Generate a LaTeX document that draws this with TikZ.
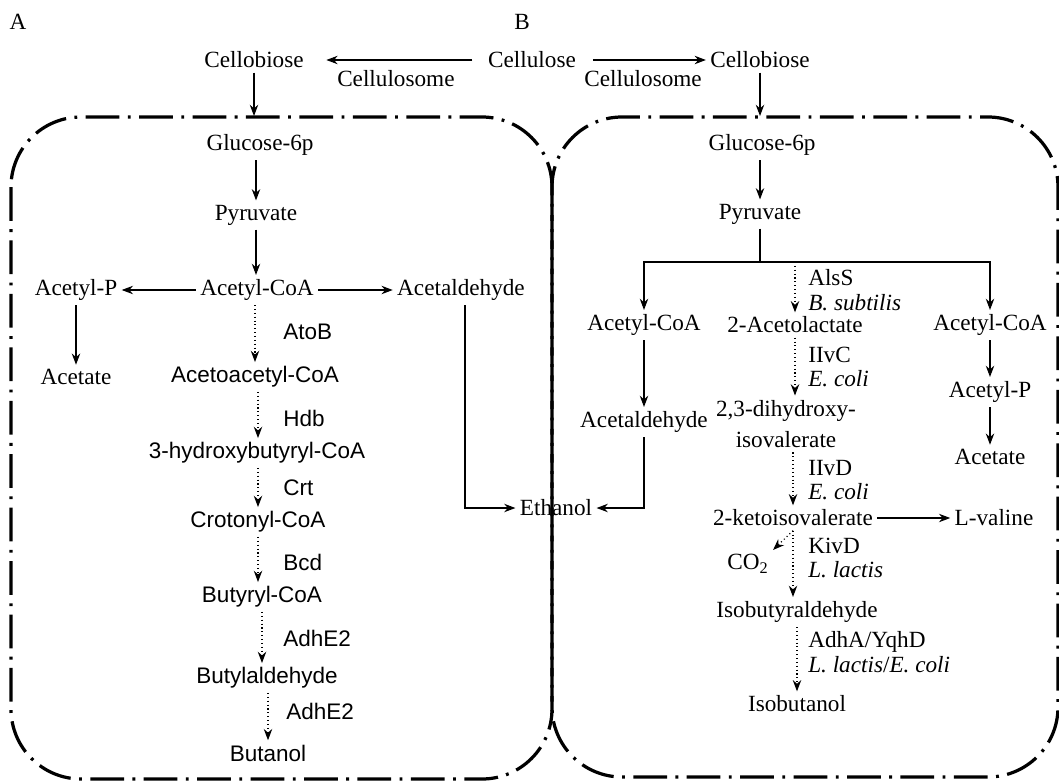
\documentclass[tikz,border=0pt]{standalone}
\usepackage{fontspec}
\setmainfont{Liberation Serif}
\setsansfont{Liberation Sans}
\usetikzlibrary{arrows.meta,calc}

\tikzstyle{every node}=[font=\fontsize{16.5}{17.5}\selectfont, inner sep=3pt]
\tikzstyle{arr}=[-{Stealth[length=8pt,width=6pt]}, line width=0.75pt]
\tikzstyle{darr}=[arr, dotted, line width=0.85pt]
\tikzstyle{sf}=[font=\fontsize{16}{17.5}\selectfont\sffamily]
\tikzstyle{enz}=[anchor=west, align=left, inner sep=0pt]
\tikzstyle{membrane}=[line width=2.3pt, rounded corners=1.75cm, dash pattern=on 24pt off 6pt on 2pt off 6pt]

\begin{document}
\begin{tikzpicture}[x=0.025cm,y=-0.025cm]
            \useasboundingbox (0,0) rectangle (1059,783);

            % 标记 A, B
            \node (lA) at (18,22) {A};
            \node (lB) at (522,22) {B};

            % 绘制细胞膜
            \draw[membrane] (11,117) rectangle (552,779);
            \draw[membrane] (552,117) rectangle (1058,777);

            % 细胞外: 纤维素
            \node (cb1) at (254,60) {Cellobiose};
            \node (cel) at (532,60) {Cellulose};
            \node (cb2) at (760,60) {Cellobiose};
            \draw[arr, shorten <=8pt, shorten >=13pt] (cel) -- (cb1) node[midway, below=4pt] {Cellulosome};
            \draw[arr, shorten <=9pt] (cel) -- (cb2) node[midway, below=4pt] {Cellulosome};
            \coordinate (inA) at (254,116);
            \coordinate (inB) at (760,116);
            \draw[arr] (cb1) -- (inA);
            \draw[arr] (cb2) -- (inB);

            % A: 丁醇途径
            \node (g6p1) at (260,145) {Glucose-6p};
            \node (pyr1) at (256,215) {Pyruvate};
            \node (acoa1) at (257,290) {Acetyl-CoA};
            \node (acp1) at (76,290) {Acetyl-P};
            \node (ace1) at (76,377) {Acetate};
            \node (ald1) at (461,290) {Acetaldehyde};
            \draw[arr] (pyr1.north |- g6p1.south) -- (pyr1.north);
            \draw[arr] (pyr1.south) -- (pyr1.south |- acoa1.north);
            \draw[arr] (acoa1) -- (acp1);
            \draw[arr] (acoa1) -- (ald1);
            \draw[arr] (acp1) -- (ace1);

            \node[sf] (aac) at (255,377) {Acetoacetyl-CoA};
            \node[sf] (hbc) at (257,453) {3-hydroxybutyryl-CoA};
            \node[sf] (crc) at (258,522) {Crotonyl-CoA};
            \node[sf] (bc) at (262,597) {Butyryl-CoA};
            \node[sf] (bal) at (267,678) {Butylaldehyde};
            \node[sf] (bol) at (268,753) {Butanol};
            \draw[darr] (aac.north |- acoa1.south) -- (aac.north);
            \draw[darr] (crc.north |- aac.south) -- (crc.north |- hbc.north);
            \draw[darr] (crc.north |- hbc.south) -- (crc.north);
            \draw[darr] (crc.south) -- (crc.south |- bc.north);
            \draw[darr] (bc.south) -- (bc.south |- bal.north);
            \draw[darr] (bol.north |- bal.south) -- (bol.north);

            \node[sf, enz] (atob) at (283,332) {AtoB};
            \node[sf, enz] (hdb) at (283,418) {Hdb};
            \node[sf, enz] (crt) at (283,488) {Crt};
            \node[sf, enz] (bcd) at (283,562) {Bcd};
            \node[sf, enz] (adh1) at (283,638) {AdhE2};
            \node[sf, enz] (adh2) at (286,711) {AdhE2};

            % 乙醇
            \node (eth) at (556,508) {Ethanol};
            \draw[arr] ($(ald1.south)+(4,0)$) |- (eth.west);

            % B: 异丁醇途径
            \node (g6p2) at (762,145) {Glucose-6p};
            \node (pyr2) at (760,214) {Pyruvate};
            \draw[arr] (pyr2.north |- g6p2.south) -- (pyr2.north);
            \coordinate (fork) at (760,262);
            \draw[line width=0.75pt] (pyr2) -- (fork);

            \node (acoa2) at (644,325) {Acetyl-CoA};
            \node (lac) at (795,325) {2-Acetolactate};
            \node (acoa3) at (990,325) {Acetyl-CoA};
            \draw[arr] (fork) -| (acoa2);
            \draw[arr] (fork) -| (acoa3);
            \draw[darr] (fork -| lac) -- (lac);

            \node (ald2) at (644,422) {Acetaldehyde};
            \draw[arr] (acoa2) -- (ald2);
            \draw[arr] (ald2) |- (eth.east);

            \node (acp2) at (990,392) {Acetyl-P};
            \node (ace2) at (990,457) {Acetate};
            \draw[arr] (acoa3) -- (acp2);
            \draw[arr] (acp2) -- (ace2);

            \node[align=center, font=\fontsize{16.5}{22.5}\selectfont] (dhiv) at (786,424) {2,3-dihydroxy-\\isovalerate};
            \node (kiv) at (793,518) {2-ketoisovalerate};
            \node (val) at (994,518) {L-valine};
            \node (co2) at (748,564) {CO\textsubscript{2}};
            \node (ibal) at (797,612) {Isobutyraldehyde};
            \node (ibol) at (797,704) {Isobutanol};
            \draw[darr] (lac.south) -- (lac.south |- dhiv.north);
            \draw[darr] (kiv.north |- dhiv.south) -- (kiv.north);
            \draw[arr] (kiv) -- (val);
            \draw[darr] (kiv.south) -- (co2.north east);
            \draw[darr] (kiv.south) -- (kiv.south |- ibal.north);
            \draw[darr] (ibal.south) -- (ibal.south |- ibol.north);

            % 酶与来源
            \node[enz] (alss) at (808,290) {AlsS\\\textit{B. subtilis}};
            \node[enz] (ilvc) at (808,367) {IIvC\\\textit{E. coli}};
            \node[enz] (ilvd) at (808,480) {IIvD\\\textit{E. coli}};
            \node[enz] (kivd) at (808,558) {KivD\\\textit{L. lactis}};
            \node[enz] (adha) at (808,652) {AdhA/YqhD\\\textit{L. lactis}/\textit{E. coli}};
        \end{tikzpicture}
\end{document}
